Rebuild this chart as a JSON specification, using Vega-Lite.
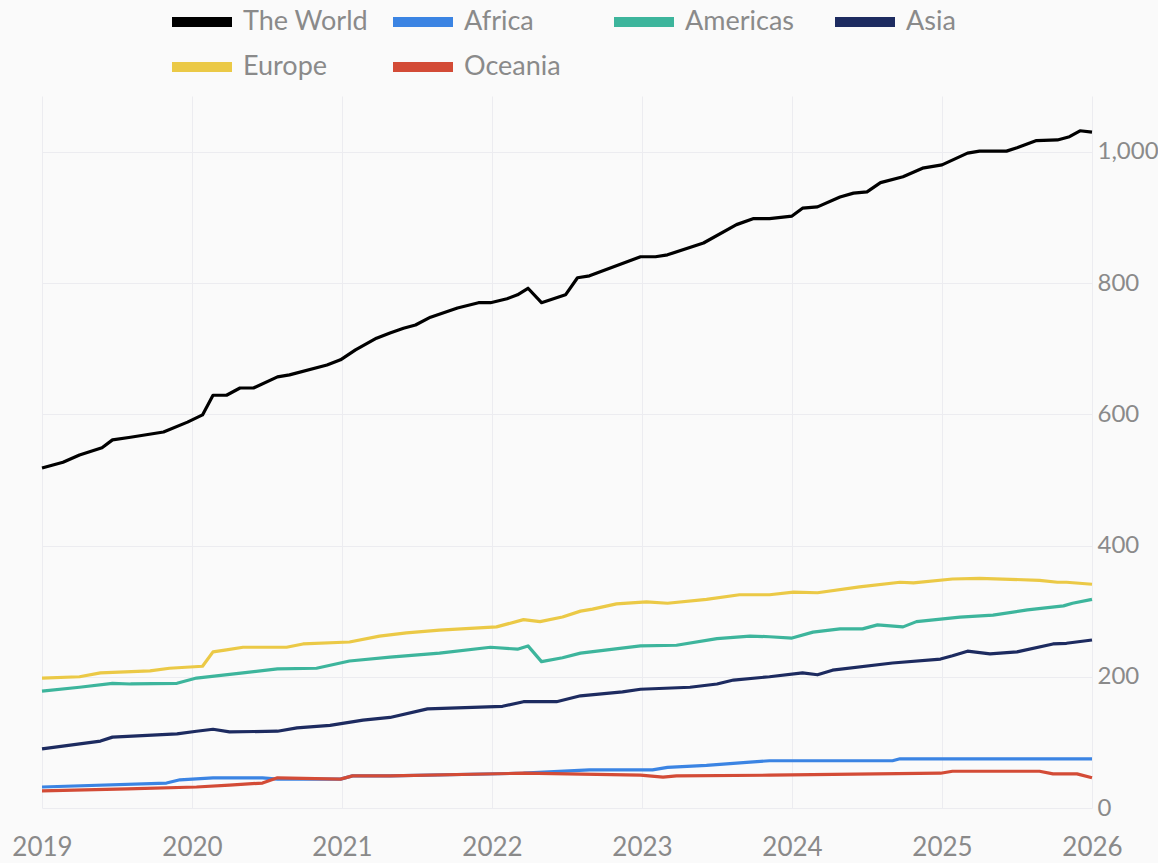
{
  "$schema": "https://vega.github.io/schema/vega-lite/v6.json",
  "autosize": "none",
  "width": 1050,
  "height": 712,
  "padding": {"left": 42, "top": 96, "right": 66, "bottom": 55},
  "background": "#fafafa",
  "config": {
    "view": {"stroke": null},
    "font": "Lato"
  },
  "data": {"values": [
    {"s":"The World","t":2019.00,"v":518},{"s":"The World","t":2019.14,"v":527},{"s":"The World","t":2019.25,"v":538},{"s":"The World","t":2019.40,"v":549},{"s":"The World","t":2019.47,"v":561},{"s":"The World","t":2019.59,"v":565},{"s":"The World","t":2019.81,"v":573},{"s":"The World","t":2019.97,"v":588},{"s":"The World","t":2020.07,"v":599},{"s":"The World","t":2020.14,"v":629},{"s":"The World","t":2020.23,"v":629},{"s":"The World","t":2020.32,"v":640},{"s":"The World","t":2020.41,"v":640},{"s":"The World","t":2020.57,"v":657},{"s":"The World","t":2020.65,"v":660},{"s":"The World","t":2020.90,"v":675},{"s":"The World","t":2020.99,"v":683},{"s":"The World","t":2021.09,"v":698},{"s":"The World","t":2021.23,"v":716},{"s":"The World","t":2021.32,"v":724},{"s":"The World","t":2021.41,"v":731},{"s":"The World","t":2021.49,"v":736},{"s":"The World","t":2021.59,"v":748},{"s":"The World","t":2021.77,"v":762},{"s":"The World","t":2021.91,"v":770},{"s":"The World","t":2021.99,"v":770},{"s":"The World","t":2022.10,"v":776},{"s":"The World","t":2022.17,"v":782},{"s":"The World","t":2022.24,"v":792},{"s":"The World","t":2022.33,"v":770},{"s":"The World","t":2022.49,"v":782},{"s":"The World","t":2022.57,"v":808},{"s":"The World","t":2022.65,"v":811},{"s":"The World","t":2022.99,"v":840},{"s":"The World","t":2023.09,"v":840},{"s":"The World","t":2023.17,"v":843},{"s":"The World","t":2023.41,"v":861},{"s":"The World","t":2023.63,"v":889},{"s":"The World","t":2023.74,"v":898},{"s":"The World","t":2023.85,"v":898},{"s":"The World","t":2024.00,"v":902},{"s":"The World","t":2024.07,"v":914},{"s":"The World","t":2024.17,"v":916},{"s":"The World","t":2024.32,"v":931},{"s":"The World","t":2024.41,"v":937},{"s":"The World","t":2024.50,"v":939},{"s":"The World","t":2024.59,"v":953},{"s":"The World","t":2024.74,"v":962},{"s":"The World","t":2024.87,"v":975},{"s":"The World","t":2025.00,"v":980},{"s":"The World","t":2025.17,"v":998},{"s":"The World","t":2025.25,"v":1001},{"s":"The World","t":2025.43,"v":1001},{"s":"The World","t":2025.50,"v":1006},{"s":"The World","t":2025.63,"v":1017},{"s":"The World","t":2025.77,"v":1018},{"s":"The World","t":2025.85,"v":1023},{"s":"The World","t":2025.92,"v":1032},{"s":"The World","t":2026.00,"v":1030},

    {"s":"Europe","t":2019.00,"v":198},{"s":"Europe","t":2019.25,"v":200},{"s":"Europe","t":2019.39,"v":206},{"s":"Europe","t":2019.72,"v":209},{"s":"Europe","t":2019.85,"v":213},{"s":"Europe","t":2020.07,"v":216},{"s":"Europe","t":2020.14,"v":238},{"s":"Europe","t":2020.23,"v":241},{"s":"Europe","t":2020.34,"v":245},{"s":"Europe","t":2020.63,"v":245},{"s":"Europe","t":2020.74,"v":250},{"s":"Europe","t":2021.05,"v":253},{"s":"Europe","t":2021.25,"v":262},{"s":"Europe","t":2021.43,"v":267},{"s":"Europe","t":2021.65,"v":271},{"s":"Europe","t":2022.03,"v":276},{"s":"Europe","t":2022.21,"v":287},{"s":"Europe","t":2022.32,"v":284},{"s":"Europe","t":2022.47,"v":291},{"s":"Europe","t":2022.59,"v":300},{"s":"Europe","t":2022.67,"v":303},{"s":"Europe","t":2022.83,"v":311},{"s":"Europe","t":2023.03,"v":314},{"s":"Europe","t":2023.17,"v":312},{"s":"Europe","t":2023.43,"v":318},{"s":"Europe","t":2023.65,"v":325},{"s":"Europe","t":2023.85,"v":325},{"s":"Europe","t":2024.01,"v":329},{"s":"Europe","t":2024.17,"v":328},{"s":"Europe","t":2024.45,"v":337},{"s":"Europe","t":2024.72,"v":344},{"s":"Europe","t":2024.81,"v":343},{"s":"Europe","t":2025.07,"v":349},{"s":"Europe","t":2025.25,"v":350},{"s":"Europe","t":2025.65,"v":347},{"s":"Europe","t":2025.77,"v":344},{"s":"Europe","t":2025.83,"v":344},{"s":"Europe","t":2026.00,"v":341},

    {"s":"Americas","t":2019.00,"v":178},{"s":"Americas","t":2019.25,"v":184},{"s":"Americas","t":2019.47,"v":190},{"s":"Americas","t":2019.59,"v":189},{"s":"Americas","t":2019.90,"v":190},{"s":"Americas","t":2020.03,"v":198},{"s":"Americas","t":2020.34,"v":206},{"s":"Americas","t":2020.57,"v":212},{"s":"Americas","t":2020.83,"v":213},{"s":"Americas","t":2021.05,"v":224},{"s":"Americas","t":2021.32,"v":230},{"s":"Americas","t":2021.65,"v":236},{"s":"Americas","t":2021.99,"v":245},{"s":"Americas","t":2022.17,"v":242},{"s":"Americas","t":2022.24,"v":247},{"s":"Americas","t":2022.33,"v":223},{"s":"Americas","t":2022.47,"v":229},{"s":"Americas","t":2022.59,"v":236},{"s":"Americas","t":2022.99,"v":247},{"s":"Americas","t":2023.23,"v":248},{"s":"Americas","t":2023.50,"v":258},{"s":"Americas","t":2023.72,"v":262},{"s":"Americas","t":2023.85,"v":261},{"s":"Americas","t":2024.00,"v":259},{"s":"Americas","t":2024.14,"v":268},{"s":"Americas","t":2024.32,"v":273},{"s":"Americas","t":2024.47,"v":273},{"s":"Americas","t":2024.57,"v":279},{"s":"Americas","t":2024.74,"v":276},{"s":"Americas","t":2024.83,"v":284},{"s":"Americas","t":2025.12,"v":291},{"s":"Americas","t":2025.34,"v":294},{"s":"Americas","t":2025.57,"v":302},{"s":"Americas","t":2025.81,"v":308},{"s":"Americas","t":2025.87,"v":312},{"s":"Americas","t":2026.00,"v":318},

    {"s":"Asia","t":2019.00,"v":90},{"s":"Asia","t":2019.39,"v":102},{"s":"Asia","t":2019.47,"v":108},{"s":"Asia","t":2019.90,"v":113},{"s":"Asia","t":2020.03,"v":117},{"s":"Asia","t":2020.14,"v":120},{"s":"Asia","t":2020.25,"v":116},{"s":"Asia","t":2020.57,"v":117},{"s":"Asia","t":2020.70,"v":122},{"s":"Asia","t":2020.92,"v":126},{"s":"Asia","t":2021.14,"v":134},{"s":"Asia","t":2021.32,"v":138},{"s":"Asia","t":2021.57,"v":151},{"s":"Asia","t":2022.07,"v":155},{"s":"Asia","t":2022.21,"v":162},{"s":"Asia","t":2022.43,"v":162},{"s":"Asia","t":2022.59,"v":171},{"s":"Asia","t":2022.87,"v":177},{"s":"Asia","t":2022.99,"v":181},{"s":"Asia","t":2023.32,"v":184},{"s":"Asia","t":2023.50,"v":189},{"s":"Asia","t":2023.61,"v":195},{"s":"Asia","t":2023.85,"v":200},{"s":"Asia","t":2024.07,"v":206},{"s":"Asia","t":2024.17,"v":203},{"s":"Asia","t":2024.27,"v":210},{"s":"Asia","t":2024.67,"v":221},{"s":"Asia","t":2024.99,"v":227},{"s":"Asia","t":2025.07,"v":232},{"s":"Asia","t":2025.17,"v":239},{"s":"Asia","t":2025.32,"v":235},{"s":"Asia","t":2025.50,"v":238},{"s":"Asia","t":2025.74,"v":250},{"s":"Asia","t":2025.83,"v":251},{"s":"Asia","t":2026.00,"v":256},

    {"s":"Africa","t":2019.00,"v":32},{"s":"Africa","t":2019.83,"v":38},{"s":"Africa","t":2019.92,"v":43},{"s":"Africa","t":2020.14,"v":46},{"s":"Africa","t":2020.47,"v":46},{"s":"Africa","t":2020.57,"v":44},{"s":"Africa","t":2020.99,"v":44},{"s":"Africa","t":2021.07,"v":49},{"s":"Africa","t":2021.32,"v":49},{"s":"Africa","t":2022.21,"v":53},{"s":"Africa","t":2022.65,"v":58},{"s":"Africa","t":2023.07,"v":58},{"s":"Africa","t":2023.17,"v":62},{"s":"Africa","t":2023.43,"v":65},{"s":"Africa","t":2023.72,"v":70},{"s":"Africa","t":2023.85,"v":72},{"s":"Africa","t":2024.67,"v":72},{"s":"Africa","t":2024.72,"v":75},{"s":"Africa","t":2026.00,"v":75},

    {"s":"Oceania","t":2019.00,"v":26},{"s":"Oceania","t":2019.57,"v":29},{"s":"Oceania","t":2020.03,"v":32},{"s":"Oceania","t":2020.25,"v":35},{"s":"Oceania","t":2020.47,"v":38},{"s":"Oceania","t":2020.57,"v":46},{"s":"Oceania","t":2020.99,"v":44},{"s":"Oceania","t":2021.07,"v":49},{"s":"Oceania","t":2021.32,"v":49},{"s":"Oceania","t":2022.21,"v":53},{"s":"Oceania","t":2022.99,"v":50},{"s":"Oceania","t":2023.14,"v":47},{"s":"Oceania","t":2023.23,"v":49},{"s":"Oceania","t":2023.85,"v":50},{"s":"Oceania","t":2024.99,"v":53},{"s":"Oceania","t":2025.07,"v":56},{"s":"Oceania","t":2025.65,"v":56},{"s":"Oceania","t":2025.74,"v":52},{"s":"Oceania","t":2025.90,"v":52},{"s":"Oceania","t":2026.00,"v":46}
  ]},
  "mark": {"type": "line", "strokeWidth": 3.2, "strokeJoin": "round", "clip": false},
  "encoding": {
    "x": {
      "field": "t", "type": "quantitative",
      "scale": {"domain": [2019, 2026], "nice": false, "zero": false},
      "axis": {
        "title": null, "values": [2019,2020,2021,2022,2023,2024,2025,2026], "format": "d",
        "domain": false, "ticks": false, "grid": true, "gridColor": "#ececf0", "gridWidth": 1,
        "labelColor": "#8a8a8a", "labelFontSize": 26, "labelPadding": 26, "labelFont": "Lato",
        "labelFlush": false, "labelBound": false, "labelOverlap": false
      }
    },
    "y": {
      "field": "v", "type": "quantitative",
      "scale": {"domain": [0, 1085], "nice": false},
      "axis": {
        "title": null, "orient": "right", "values": [0,200,400,600,800,1000], "format": ",.0f",
        "domain": false, "ticks": false, "grid": true, "gridColor": "#ececf0", "gridWidth": 1,
        "labelColor": "#8a8a8a", "labelFontSize": 24, "labelPadding": 5, "labelFont": "Lato"
      }
    },
    "color": {
      "field": "s", "type": "nominal",
      "scale": {
        "domain": ["The World", "Africa", "Americas", "Asia", "Europe", "Oceania"],
        "range": ["#000000", "#3b84e3", "#3db59c", "#1d2b60", "#ebc946", "#d34b36"]
      },
      "legend": {
        "title": null, "orient": "none", "legendX": 140, "legendY": -94,
        "direction": "horizontal", "columns": 4, "gridAlign": "all",
        "symbolType": "M-2,0H2", "symbolSize": 900, "symbolStrokeWidth": 10,
        "labelFontSize": 27, "labelColor": "#8a8a8a", "labelFont": "Lato", "labelOffset": 21,
        "columnPadding": 4, "rowPadding": 5, "padding": 0, "labelLimit": 300
      }
    }
  }
}
